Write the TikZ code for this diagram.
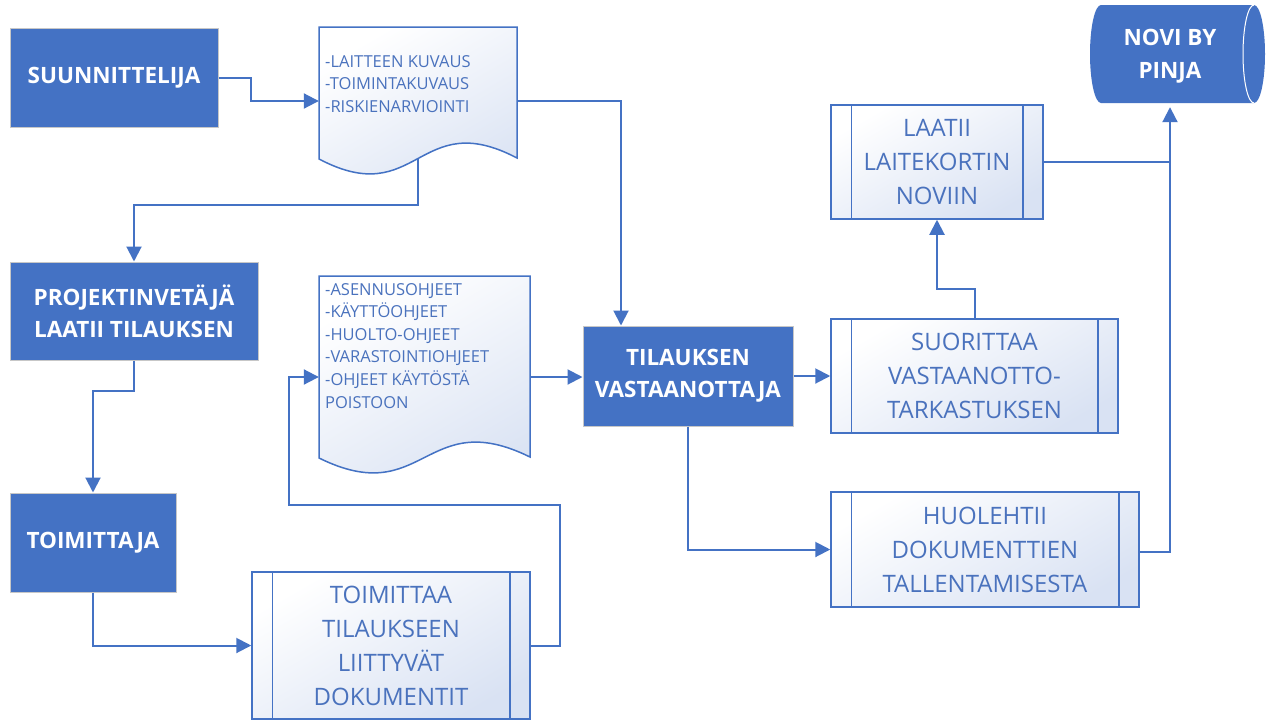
\documentclass[tikz,border=0pt]{standalone}
\usepackage{fontspec}
\setmainfont{Open Sans}
\usetikzlibrary{arrows.meta,calc}

\definecolor{accent}{HTML}{4472C4}
\definecolor{pale}{HTML}{D9E2F3}
\definecolor{inktext}{HTML}{4A72BD}

\tikzset{
  solidbox/.style={rectangle, fill=accent, draw=black!22, line width=1pt,
    text=white, font=\bfseries\fontsize{22.5}{32}\selectfont, align=center, inner sep=0pt},
  subbox/.style={rectangle, draw=accent, line width=1.5pt,
    top color=white, bottom color=pale, shading angle=30,
    text=inktext, font=\fontsize{24}{34}\selectfont, align=center, inner sep=0pt},
  docarea/.style={rectangle, inner sep=0pt},
  doctext/.style={anchor=north west, inner sep=0pt, align=left, text=inktext,
    font=\fontsize{16.5}{22.6}\selectfont},
  docshape/.style={draw=accent, line width=1.5pt, top color=white, bottom color=pale, shading angle=30},
  sideline/.style={draw=accent, line width=1.5pt},
  flow/.style={draw=accent, line width=2pt, -{Triangle[length=15pt,width=15pt]}},
  link/.style={draw=accent, line width=2pt},
}

\begin{document}
\begin{tikzpicture}[x=1pt, y=-1pt]
\useasboundingbox (0,0) rectangle (1270,721);
\fill[white] (0,0) rectangle (1270,721);

% filled process boxes
\node[solidbox, minimum width=208, minimum height=99] (suun) at (114,77.5) {SUUNNITTELIJA};
\node[solidbox, minimum width=248, minimum height=98] (proj) at (134,311) {PROJEKTINVETÄJÄ\\LAATII TILAUKSEN};
\node[solidbox, minimum width=166, minimum height=99] (toim) at (93,542.5) {TOIMITTAJA};
\node[solidbox, minimum width=210, minimum height=100] (vast) at (688,376) {TILAUKSEN\\VASTAANOTTAJA};

% predefined-process boxes
\node[subbox, minimum width=287, minimum height=114] (suor) at (974.5,376) {SUORITTAA\\VASTAANOTTO-\\TARKASTUKSEN};
\node[subbox, minimum width=212, minimum height=114] (laat) at (937,162) {LAATII\\LAITEKORTIN\\NOVIIN};
\node[subbox, minimum width=308, minimum height=115] (huol) at (985,549.5) {HUOLEHTII\\DOKUMENTTIEN\\TALLENTAMISESTA};
\node[subbox, minimum width=278, minimum height=147] (tmt) at (391,645.5) {TOIMITTAA\\TILAUKSEEN\\LIITTYVÄT\\DOKUMENTIT};
\foreach \n in {suor,laat,huol,tmt}{
  \draw[sideline] ($(\n.north west)+(21,0)$) -- ($(\n.south west)+(21,0)$);
  \draw[sideline] ($(\n.north east)+(-21,0)$) -- ($(\n.south east)+(-21,0)$);
}

% document shapes
\node[docarea, minimum width=198, minimum height=148] (doc1) at (418,101) {};
\draw[docshape] (319,27) -- (517,27) -- (517,158)
  .. controls (418,106) and (418,211) .. (319,159) -- cycle;
\node[doctext] (doc1txt) at (325,55) {-LAITTEEN KUVAUS\\-TOIMINTAKUVAUS\\-RISKIENARVIOINTI};

\node[docarea, minimum width=211, minimum height=202] (doc2) at (424.5,377) {};
\draw[docshape] (319,276) -- (530,276) -- (530,457)
  .. controls (424.5,405) and (424.5,510) .. (319,458) -- cycle;
\node[doctext] (doc2txt) at (325,283) {-ASENNUSOHJEET\\-KÄYTTÖOHJEET\\-HUOLTO-OHJEET\\-VARASTOINTIOHJEET\\-OHJEET KÄYTÖSTÄ\\POISTOON};

% storage cylinder
\fill[accent] (1101,5) -- (1254,5) arc[start angle=-90, end angle=90, x radius=11, y radius=49]
  -- (1101,103) arc[start angle=90, end angle=270, x radius=11, y radius=49] -- cycle;
\draw[white, line width=1pt] (1254,5) arc[start angle=-90, end angle=-270, x radius=11, y radius=49];
\node[docarea, minimum width=160, minimum height=98, text=white,
  font=\bfseries\fontsize{22.5}{33}\selectfont, align=center] (novi) at (1170,56) {NOVI BY\\PINJA};

% connectors
\coordinate (loopA) at (560,505);
\coordinate (loopB) at (289,505);
\draw[flow] (suun.east) -- ++(32,0) |- (doc1.west);
\draw[flow] (doc1.east) -| ([xshift=-67pt]vast.north);
\draw[flow] ([yshift=16pt]doc1.south) -- ++(0,46) -| (proj.north);
\draw[flow] (proj.south) -- ++(0,30) -| (toim.north);
\draw[flow] (toim.south) |- (tmt.west);
\draw[flow] (tmt.east) -| (loopA) -- (loopB) |- (doc2.west);
\draw[flow] (doc2.east) -- (doc2.east -| vast.west);
\draw[flow] (vast.east) -- (suor.west);
\draw[flow] (suor.north) -- ++(0,-29) -| (laat.south);
\draw[flow] (vast.south) |- (huol.west);
\draw[flow] ([yshift=-2pt]huol.east) -| ([yshift=-2pt]novi.south);
\draw[link] (laat.east) -- (laat.east -| novi.south);
\end{tikzpicture}
\end{document}
